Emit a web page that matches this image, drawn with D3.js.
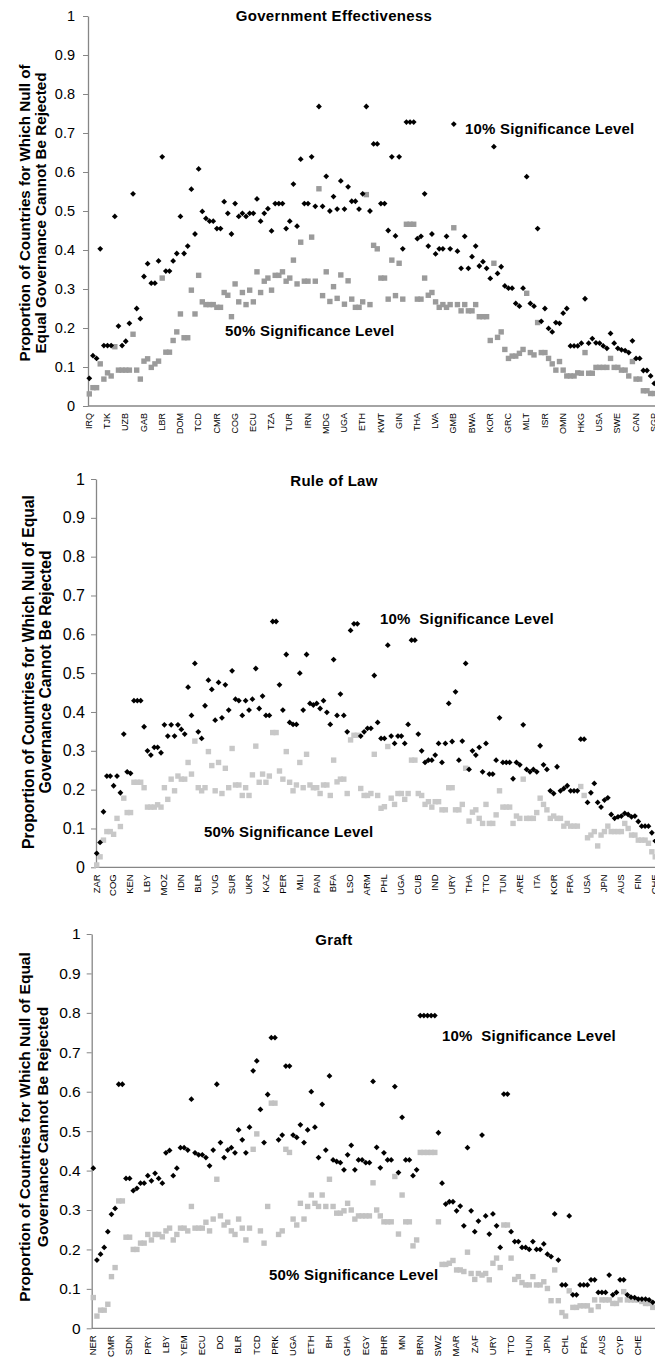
<!DOCTYPE html>
<html>
<head>
<meta charset="utf-8">
<script src="https://cdn.jsdelivr.net/npm/d3@7"></script>
<style>
  html, body { margin: 0; padding: 0; background: #fff; }
  svg { display: block; font-family: "Liberation Sans", Arial, sans-serif; }
</style>
</head>
<body>
<svg id="chart" width="655" height="1359"></svg>
<script>
// ---------- DATA ----------
const yTicks = [0, 0.1, 0.2, 0.3, 0.4, 0.5, 0.6, 0.7, 0.8, 0.9, 1];
const yTickLabels = ["0", "0.1", "0.2", "0.3", "0.4", "0.5", "0.6", "0.7", "0.8", "0.9", "1"];

// Panel 1: Government Effectiveness
const geLabels = ["IRQ","TJK","UZB","GAB","LBR","DOM","TCD","CMR","COG","ECU","TZA","TUR","IRN","MDG","UGA","ETH","KWT","GIN","THA","LVA","GMB","BWA","KOR","GRC","MLT","ISR","OMN","HKG","USA","SWE","CAN","SGP"];
const ge10 = [0.071,0.129,0.122,0.403,0.155,0.155,0.155,0.486,0.205,0.155,
0.166,0.212,0.544,0.25,0.224,0.332,0.365,0.315,0.315,0.372,
0.639,0.346,0.346,0.372,0.391,0.486,0.391,0.41,0.556,0.441,
0.608,0.499,0.481,0.474,0.474,0.455,0.455,0.524,0.494,0.441,
0.519,0.486,0.494,0.486,0.494,0.494,0.531,0.474,0.494,0.506,
0.449,0.519,0.519,0.519,0.455,0.474,0.569,0.461,0.633,0.519,
0.519,0.639,0.512,0.768,0.512,0.589,0.5,0.537,0.505,0.577,
0.505,0.562,0.525,0.525,0.505,0.544,0.768,0.5,0.672,0.672,
0.519,0.519,0.45,0.639,0.436,0.639,0.403,0.728,0.728,0.728,
0.429,0.435,0.544,0.41,0.441,0.39,0.403,0.403,0.435,0.403,
0.723,0.397,0.353,0.435,0.353,0.383,0.41,0.359,0.37,0.353,
0.327,0.665,0.34,0.357,0.308,0.302,0.302,0.263,0.256,0.302,
0.588,0.263,0.256,0.455,0.217,0.25,0.199,0.19,0.214,0.212,
0.238,0.25,0.154,0.154,0.154,0.161,0.275,0.161,0.173,0.162,
0.161,0.154,0.148,0.186,0.161,0.148,0.144,0.142,0.137,0.167,
0.122,0.122,0.091,0.091,0.077,0.058];
const ge50 = [0.031,0.047,0.047,0.108,0.069,0.085,0.077,0.152,0.092,0.092,
0.092,0.092,0.184,0.092,0.069,0.115,0.121,0.099,0.108,0.115,
0.328,0.138,0.138,0.168,0.19,0.236,0.175,0.175,0.297,0.236,
0.335,0.267,0.26,0.26,0.26,0.253,0.253,0.291,0.284,0.229,
0.313,0.267,0.291,0.26,0.297,0.267,0.344,0.291,0.32,0.328,
0.297,0.335,0.335,0.344,0.32,0.328,0.374,0.313,0.42,0.32,
0.32,0.433,0.32,0.557,0.283,0.344,0.268,0.306,0.276,0.336,
0.261,0.321,0.274,0.253,0.253,0.267,0.542,0.26,0.412,0.403,
0.328,0.328,0.274,0.374,0.283,0.366,0.274,0.466,0.466,0.466,
0.274,0.274,0.328,0.284,0.291,0.267,0.253,0.26,0.253,0.26,
0.457,0.26,0.244,0.26,0.244,0.244,0.26,0.229,0.229,0.229,
0.168,0.366,0.176,0.19,0.145,0.122,0.128,0.128,0.135,0.145,
0.289,0.137,0.131,0.214,0.137,0.137,0.122,0.108,0.092,0.114,
0.092,0.077,0.077,0.077,0.085,0.084,0.137,0.084,0.084,0.099,
0.099,0.099,0.099,0.122,0.099,0.099,0.092,0.092,0.077,0.114,
0.069,0.069,0.039,0.039,0.032,0.032];

// Panel 2: Rule of Law
const rlLabels = ["ZAR","COG","KEN","LBY","MOZ","IDN","BLR","YUG","SUR","UKR","KAZ","PER","MLI","PAN","BFA","LSO","ARM","PHL","UGA","CUB","IND","URY","THA","TTO","TUN","ARE","ITA","KOR","FRA","USA","JPN","AUS","FIN","CHE"];
const rl10 = [0.036,0.064,0.143,0.235,0.235,0.21,0.235,0.192,0.343,0.246,
0.242,0.429,0.429,0.429,0.362,0.3,0.289,0.309,0.309,0.295,
0.367,0.338,0.367,0.338,0.367,0.355,0.343,0.464,0.391,0.525,
0.349,0.332,0.416,0.482,0.458,0.379,0.476,0.385,0.47,0.405,
0.506,0.433,0.429,0.391,0.429,0.405,0.433,0.512,0.409,0.441,
0.391,0.391,0.633,0.633,0.47,0.405,0.548,0.373,0.368,0.368,
0.5,0.405,0.548,0.422,0.418,0.422,0.409,0.429,0.399,0.368,
0.535,0.391,0.446,0.391,0.349,0.61,0.627,0.627,0.338,0.349,
0.358,0.358,0.494,0.373,0.332,0.332,0.572,0.338,0.319,0.338,
0.338,0.319,0.368,0.585,0.585,0.343,0.3,0.27,0.276,0.276,
0.289,0.319,0.27,0.319,0.422,0.324,0.452,0.276,0.325,0.525,
0.252,0.3,0.289,0.309,0.246,0.319,0.24,0.24,0.276,0.385,
0.27,0.27,0.27,0.228,0.27,0.264,0.367,0.252,0.246,0.252,
0.246,0.313,0.264,0.252,0.197,0.19,0.259,0.197,0.203,0.21,
0.197,0.197,0.197,0.33,0.33,0.167,0.192,0.216,0.167,0.155,
0.173,0.179,0.136,0.126,0.13,0.132,0.139,0.136,0.13,0.132,
0.118,0.106,0.106,0.106,0.089,0.068];
const rl50 = [0.006,0.027,0.07,0.092,0.092,0.085,0.126,0.105,0.178,0.141,
0.141,0.219,0.219,0.219,0.205,0.155,0.155,0.155,0.161,0.155,
0.205,0.175,0.227,0.197,0.235,0.227,0.227,0.27,0.24,0.325,
0.205,0.197,0.205,0.298,0.262,0.197,0.27,0.19,0.255,0.205,
0.306,0.212,0.212,0.185,0.205,0.185,0.238,0.312,0.219,0.24,
0.219,0.235,0.347,0.347,0.248,0.227,0.298,0.219,0.197,0.212,
0.27,0.205,0.291,0.212,0.205,0.205,0.19,0.212,0.212,0.185,
0.276,0.22,0.227,0.227,0.19,0.328,0.34,0.34,0.203,0.185,
0.185,0.19,0.291,0.185,0.152,0.156,0.311,0.178,0.162,0.19,
0.19,0.175,0.19,0.276,0.276,0.19,0.185,0.162,0.169,0.155,
0.169,0.169,0.148,0.148,0.205,0.205,0.148,0.148,0.162,0.255,
0.119,0.142,0.148,0.126,0.113,0.162,0.113,0.113,0.135,0.197,
0.155,0.155,0.155,0.113,0.132,0.126,0.227,0.126,0.126,0.126,
0.141,0.178,0.162,0.148,0.126,0.132,0.126,0.126,0.106,0.113,
0.106,0.106,0.106,0.208,0.185,0.076,0.083,0.092,0.055,0.083,
0.092,0.106,0.092,0.092,0.092,0.092,0.113,0.1,0.083,0.083,
0.07,0.07,0.07,0.062,0.04,0.027];

// Panel 3: Graft
const grLabels = ["NER","CMR","SDN","PRY","LBY","YEM","ECU","DO","BLR","TCD","PRK","UGA","ETH","BH","GHA","EGY","BHR","MN","BRN","SWZ","MAR","ZAF","URY","TTO","HUN","JPN","CHL","FRA","AUS","CYP","CHE"];
const gr10 = [0.406,0.173,0.188,0.205,0.245,0.289,0.304,0.619,0.619,0.38,
0.38,0.349,0.355,0.368,0.368,0.387,0.374,0.393,0.38,0.368,
0.445,0.451,0.387,0.406,0.458,0.458,0.452,0.581,0.445,0.44,
0.44,0.433,0.412,0.452,0.619,0.471,0.433,0.452,0.458,0.445,
0.503,0.478,0.445,0.51,0.653,0.678,0.555,0.471,0.593,0.737,
0.737,0.478,0.49,0.665,0.665,0.49,0.484,0.516,0.471,0.503,
0.6,0.51,0.433,0.568,0.452,0.64,0.427,0.423,0.42,0.402,
0.44,0.464,0.402,0.427,0.427,0.42,0.42,0.626,0.459,0.407,
0.445,0.427,0.427,0.613,0.395,0.535,0.427,0.427,0.387,0.402,
0.793,0.793,0.793,0.793,0.793,0.496,0.368,0.315,0.321,0.321,
0.298,0.31,0.26,0.458,0.298,0.245,0.272,0.49,0.285,0.239,
0.29,0.26,0.205,0.594,0.594,0.245,0.22,0.22,0.205,0.205,
0.2,0.22,0.2,0.2,0.214,0.188,0.182,0.29,0.173,0.11,
0.11,0.285,0.085,0.085,0.11,0.11,0.11,0.123,0.123,0.091,
0.091,0.091,0.135,0.085,0.091,0.123,0.123,0.085,0.079,0.078,
0.074,0.074,0.074,0.072,0.066];
const gr50 = [0.078,0.031,0.046,0.046,0.061,0.131,0.154,0.323,0.323,0.231,
0.231,0.2,0.2,0.216,0.216,0.238,0.224,0.238,0.238,0.232,
0.247,0.254,0.224,0.238,0.254,0.254,0.247,0.309,0.254,0.254,
0.254,0.269,0.247,0.277,0.378,0.285,0.262,0.269,0.247,0.238,
0.277,0.254,0.224,0.254,0.454,0.493,0.247,0.216,0.309,0.571,
0.571,0.238,0.247,0.454,0.446,0.277,0.262,0.317,0.277,0.309,
0.338,0.317,0.309,0.338,0.309,0.378,0.309,0.292,0.292,0.298,
0.317,0.3,0.277,0.285,0.285,0.285,0.285,0.369,0.3,0.285,
0.27,0.27,0.27,0.385,0.239,0.338,0.27,0.27,0.209,0.224,
0.446,0.446,0.446,0.446,0.446,0.27,0.162,0.162,0.165,0.172,
0.148,0.148,0.144,0.193,0.139,0.124,0.139,0.135,0.139,0.123,
0.165,0.178,0.154,0.262,0.262,0.178,0.124,0.131,0.116,0.11,
0.11,0.131,0.11,0.11,0.118,0.101,0.07,0.148,0.07,0.04,
0.031,0.095,0.053,0.053,0.057,0.057,0.057,0.046,0.072,0.055,
0.072,0.072,0.072,0.063,0.063,0.072,0.093,0.072,0.072,0.072,
0.072,0.068,0.063,0.063,0.053];

const titles = ["Government Effectiveness", "Rule of Law", "Graft"];
const yTitles = [
  ["Proportion of Countries for Which Null of", "Equal Governance Cannot Be Rejected"],
  ["Proportion of Countries for Which Null of Equal", "Governance Cannot Be Rejected"],
  ["Proportion of Countries for Which Null of Equal", "Governance Cannot Be Rejected"]
];
const note10 = ["10% Significance Level", "10%  Significance Level", "10%  Significance Level"];
const note50 = ["50% Significance Level", "50% Significance Level", "50% Significance Level"];

// ---------- LAYOUT (positions / styles) ----------
const layout = [
  { axisX: 88, x0: 89.3, step: 3.645, yTop: 16, yBot: 406, pad: 8, gray: "#9b9b9b",
    tickFs: 14.5, catFs: 9, ytFs: 15.2,
    titleY: 21, yt: [25, 41, 213], n10: [465, 133.5], n50: [225, 335.5] },
  { axisX: 96, x0: 96.7, step: 3.385, yTop: 479, yBot: 867.3, pad: 6, gray: "#c8c8c8",
    tickFs: 16, catFs: 9.5, ytFs: 15.7,
    titleY: 485.5, yt: [28, 45, 672], n10: [380, 623.5], n50: [204, 837] },
  { axisX: 91.7, x0: 93.3, step: 3.633, yTop: 934, yBot: 1328.3, pad: 6, gray: "#c2c2c2",
    tickFs: 15.5, catFs: 9.5, ytFs: 15.5,
    titleY: 944.5, yt: [25, 43, 1127], n10: [442, 1040.5], n50: [269, 1279.5] }
];

const panelData = [
  { labels: geLabels, s10: ge10, s50: ge50 },
  { labels: rlLabels, s10: rl10, s50: rl50 },
  { labels: grLabels, s10: gr10, s50: gr50 }
];

const svg = d3.select("#chart");
const W = 655;
const axisColor = "#868686";

panelData.forEach((pd, p) => {
  const L = layout[p];
  const g = svg.append("g");
  const n = pd.s10.length;
  const x = d3.scaleLinear().domain([0, n - 1]).range([L.x0, L.x0 + L.step * (n - 1)]);
  const y = d3.scaleLinear().domain([0, 1]).range([L.yBot, L.yTop]);

  // y axis
  const yAxis = d3.axisLeft(y).tickValues(yTicks)
    .tickFormat((d, i) => yTickLabels[i]).tickSize(5).tickSizeOuter(0).tickPadding(L.pad);
  const ya = g.append("g").attr("transform", `translate(${L.axisX},0)`).call(yAxis);
  ya.select(".domain").attr("stroke", axisColor).attr("stroke-width", 1.3);
  ya.selectAll(".tick line").attr("stroke", axisColor);
  ya.selectAll(".tick text").attr("fill", "#000").style("font-size", L.tickFs + "px")
    .style("font-family", "'Liberation Sans', Arial, sans-serif");

  // x axis line
  g.append("line").attr("x1", L.axisX).attr("x2", W)
    .attr("y1", y(0)).attr("y2", y(0))
    .attr("stroke", axisColor).attr("stroke-width", 1.3);

  // category labels (every 5th)
  g.selectAll("text.cat").data(pd.labels).enter().append("text")
    .attr("class", "cat")
    .attr("transform", (d, i) => `translate(${x(i * 5) - 0.5},${y(0) + 7}) rotate(-90)`)
    .attr("text-anchor", "end").attr("dy", "0.35em")
    .style("font-size", L.catFs + "px").attr("fill", "#000")
    .text(d => d);

  // gray squares (50%)
  const sq = 5.4;
  g.selectAll("rect.s50").data(pd.s50).enter().append("rect")
    .attr("x", (d, i) => x(i) - sq / 2).attr("y", d => y(d) - sq / 2)
    .attr("width", sq).attr("height", sq).attr("fill", L.gray);

  // black diamonds (10%)
  const r = 2.9;
  g.selectAll("path.s10").data(pd.s10).enter().append("path")
    .attr("d", `M0,${-r}L${r},0L0,${r}L${-r},0Z`)
    .attr("transform", (d, i) => `translate(${x(i)},${y(d)})`)
    .attr("fill", "#000");

  // title
  g.append("text").attr("x", 334).attr("y", L.titleY).attr("text-anchor", "middle")
    .style("font-size", "15px").style("font-weight", "bold").style("letter-spacing", "0.3px")
    .text(titles[p]);

  // y-axis title (two lines)
  yTitles[p].forEach((t, k) => {
    g.append("text")
      .attr("transform", `translate(${L.yt[k]},${L.yt[2]}) rotate(-90)`)
      .attr("text-anchor", "middle").attr("dy", "0.35em")
      .style("font-size", L.ytFs + "px").style("font-weight", "bold")
      .text(t);
  });

  // annotations
  g.append("text").attr("x", L.n10[0]).attr("y", L.n10[1])
    .style("font-size", "15px").style("font-weight", "bold").style("letter-spacing", "0.2px")
    .style("white-space", "pre").text(note10[p]);
  g.append("text").attr("x", L.n50[0]).attr("y", L.n50[1])
    .style("font-size", "15px").style("font-weight", "bold").style("letter-spacing", "0.2px")
    .style("white-space", "pre").text(note50[p]);
});
</script>
</body>
</html>
